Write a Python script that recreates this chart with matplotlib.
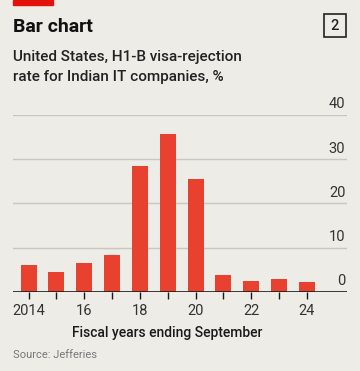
import matplotlib.pyplot as plt
from matplotlib.patches import Rectangle
from matplotlib.transforms import blended_transform_factory

years = [2014, 2015, 2016, 2017, 2018, 2019, 2020, 2021, 2022, 2023, 2024]
rates = [6.0, 4.5, 6.6, 8.3, 28.4, 35.7, 25.5, 3.7, 2.4, 2.8, 2.3]
xtick_pos = [2014, 2016, 2018, 2020, 2022, 2024]
xtick_labels = ["2014", "16", "18", "20", "22", "24"]
ytick_vals = [0, 10, 20, 30, 40]

BG = "#edece6"
RED = "#e8412f"
plt.rcParams['font.family'] = ['Roboto', 'DejaVu Sans']

W, H = 360, 371
fig = plt.figure(figsize=(W/100, H/100), dpi=100, facecolor=BG)

def fx(px): return px / W
def fy(py): return 1 - py / H

ax = fig.add_axes([fx(13), fy(291.7), fx(347) - fx(13), fy(115) - fy(291.7)])
ax.set_facecolor(BG)
ax.bar(years, rates, width=0.58, color=RED, zorder=3)
ax.set_xlim(2013.44, 2025.44)
ax.set_ylim(0, 40)
for v in ytick_vals[1:]:
    ax.axhline(v, color="#c9c8c0", lw=1, zorder=1)
ax.axhline(0, color="#1a1a1a", lw=1.2, zorder=4)
for s in ax.spines.values():
    s.set_visible(False)
ax.set_yticks([])
ax.set_xticks(years)
ax.set_xticklabels([""] * len(years))
ax.tick_params(axis='x', length=5, width=1, color="#1a1a1a", direction='out', pad=2)
for p, l in zip(xtick_pos, xtick_labels):
    ax.text(p, -0.11, l, transform=blended_transform_factory(ax.transData, ax.transAxes),
            ha='center', va='center', fontsize=10.5, color="#333333")
tr = blended_transform_factory(ax.transAxes, ax.transData)
for v in ytick_vals:
    ax.text(0.995, v + 0.8, str(v), transform=tr, ha='right', va='bottom',
            fontsize=10.5, color="#333333")

fig.text(fx(167), fy(333), "Fiscal years ending September", ha='center', va='center',
         fontsize=10, fontweight='medium', color="#1a1a1a")
fig.text(fx(13), fy(355), "Source: Jefferies", ha='left', va='center',
         fontsize=8, color="#777777")

fig.text(fx(13), fy(27), "Bar chart", ha='left', va='center', fontsize=14,
         fontweight='bold', color="#111111")
fig.text(fx(13), fy(57), "United States, H1-B visa-rejection", ha='left', va='center',
         fontsize=11, fontweight='medium', color="#222222")
fig.text(fx(13), fy(77), "rate for Indian IT companies, %", ha='left', va='center',
         fontsize=11, fontweight='medium', color="#222222")

fig.patches.append(Rectangle((fx(13), fy(5)), fx(53) - fx(13), fy(0) - fy(5),
                             transform=fig.transFigure, color="#e3120b"))
fig.patches.append(Rectangle((fx(324), fy(37)), fx(346) - fx(324), fy(14) - fy(37),
                             transform=fig.transFigure, fill=False, ec="#222222", lw=1.2))
fig.text(fx(335), fy(25.5), "2", ha='center', va='center', fontsize=10.5,
         fontweight='medium', color="#222222")

fig.savefig("out.png", dpi=100, facecolor=BG)
